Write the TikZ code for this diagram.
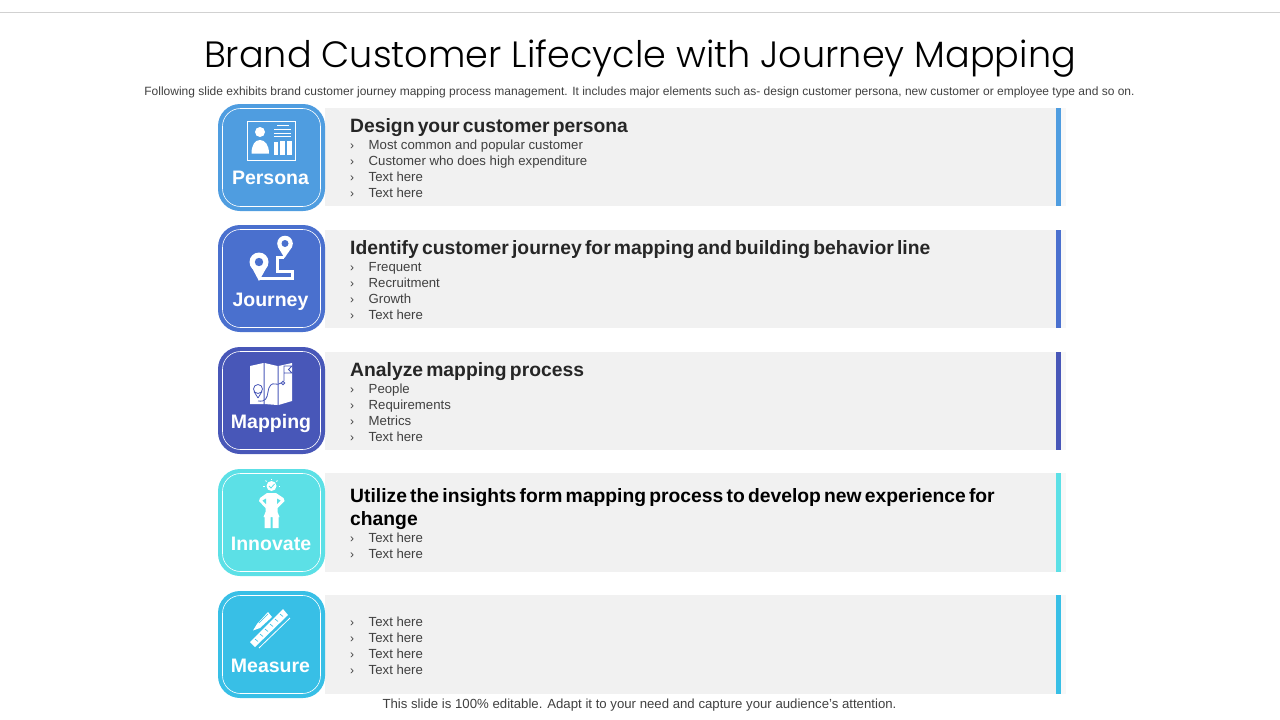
\documentclass[tikz,border=0pt]{standalone}
\usepackage{fontspec}
\setmainfont{Liberation Sans}
\newfontfamily\titlefont{Poppins Light}
\newfontfamily\headfont{Liberation Sans}[WordSpace=0.6]
\usepackage{xcolor}
\usetikzlibrary{positioning,calc}

\definecolor{perscol}{HTML}{4F9DE0}
\definecolor{jourcol}{HTML}{4A70CE}
\definecolor{mapcol}{HTML}{4857B8}
\definecolor{innocol}{HTML}{5CE0E6}
\definecolor{meascol}{HTML}{38BFE6}
\definecolor{rowgrey}{HTML}{F1F1F1}
\definecolor{stripgrey}{HTML}{F8F8F8}
\definecolor{bodygrey}{HTML}{404040}

\tikzset{
    iconbox/.style={fill=#1, rounded corners=22pt, minimum width=107pt, minimum height=107pt, inner sep=0pt},
    innerbox/.style={draw=white, line width=0.6pt, rounded corners=18pt, minimum width=98pt, minimum height=98pt, inner sep=0pt},
    rowbg/.style={fill=rowgrey, anchor=north west, minimum width=731pt, minimum height=#1, inner sep=0pt},
    strip/.style={fill=stripgrey, anchor=north west, minimum width=5pt, minimum height=#1, inner sep=0pt},
    accent/.style={fill=#1, anchor=north west, minimum width=5pt, inner sep=0pt},
    boxlabel/.style={anchor=base, text=white, font=\bfseries\fontsize{19.5}{20}\selectfont, inner sep=0pt},
    heading/.style={anchor=base west, inner sep=0pt, text=#1, font=\headfont\bfseries\fontsize{19.3}{23}\selectfont},
    bullet/.style={anchor=base west, inner sep=0pt, text=bodygrey, font=\fontsize{12}{12}\selectfont},
    entry/.style={anchor=base west, inner sep=0pt, text=bodygrey, font=\fontsize{13.2}{16}\selectfont}
}

\begin{document}
\begin{tikzpicture}[x=1pt, y=-1pt]
    \useasboundingbox (0,0) rectangle (1280,720);

    \coordinate (ruleL) at (0,12);
    \coordinate (ruleR) at (1280,12);
    \draw [black!18, line width=1pt] (ruleL) -- (ruleR);

    \node [inner sep=0pt, font=\titlefont\fontsize{36.6}{38}\selectfont] (title) at (640,59) {Brand Customer Lifecycle with Journey Mapping};
    \node [inner sep=0pt, text=bodygrey, font=\fontsize{12}{14}\selectfont] (subtitle) at (639.5,92.5) {Following slide exhibits brand customer journey mapping process management. It includes major elements such as- design customer persona, new customer or employee type and so on.};
    \node [inner sep=0pt, text=bodygrey, font=\fontsize{13.2}{16}\selectfont] (footer) at (639.5,705.5) {This slide is 100\% editable. Adapt it to your need and capture your audience’s attention.};

    % rows
    \node [rowbg=98pt] (row1) at (325,108) {};
    \node [rowbg=98pt] (row2) at (325,230) {};
    \node [rowbg=98pt] (row3) at (325,352) {};
    \node [rowbg=99pt] (row4) at (325,473) {};
    \node [rowbg=99pt] (row5) at (325,595) {};

    \node [strip=98pt] (strip1) at (1061,108) {};
    \node [strip=98pt] (strip2) at (1061,230) {};
    \node [strip=98pt] (strip3) at (1061,352) {};
    \node [strip=99pt] (strip4) at (1061,473) {};
    \node [strip=99pt] (strip5) at (1061,595) {};

    \node [accent=perscol, minimum height=98pt] (bar1) at (1056,108) {};
    \node [accent=jourcol, minimum height=98pt] (bar2) at (1056,230) {};
    \node [accent=mapcol, minimum height=98pt] (bar3) at (1056,352) {};
    \node [accent=innocol, minimum height=99pt] (bar4) at (1056,473) {};
    \node [accent=meascol, minimum height=99pt] (bar5) at (1056,595) {};

    % boxes
    \node [iconbox=perscol] (persona) at (271.5,157.5) {};
    \node [iconbox=jourcol] (journey) at (271.5,278.5) {};
    \node [iconbox=mapcol] (mapping) at (271.5,400.5) {};
    \node [iconbox=innocol] (innovate) at (271.5,522.5) {};
    \node [iconbox=meascol] (measure) at (271.5,644.5) {};

    \node [innerbox] (personaIn) at (persona) {};
    \node [innerbox] (journeyIn) at (journey) {};
    \node [innerbox] (mappingIn) at (mapping) {};
    \node [innerbox] (innovateIn) at (innovate) {};
    \node [innerbox] (measureIn) at (measure) {};

    \node [boxlabel] (personaText) at (270.5,184) {Persona};
    \node [boxlabel] (journeyText) at (270.5,306) {Journey};
    \node [boxlabel] (mappingText) at (271,428) {Mapping};
    \node [boxlabel] (innovateText) at (271,550) {Innovate};
    \node [boxlabel] (measureText) at (270.5,672) {Measure};

    % persona icon
    \draw [white, line width=1pt] (247.5,121.5) rectangle (295.5,160.5);
    \fill [white] (260,132) circle [radius=5];
    \fill [white] (251.5,153.5) .. controls (251.5,145) and (255,140) .. (260,140) .. controls (265,140) and (269,145) .. (269,153.5) -- cycle;
    \draw [white, line width=0.8pt] (277,125.5) -- (289,125.5);
    \draw [white, line width=0.8pt] (274,129.5) -- (291,129.5);
    \draw [white, line width=0.8pt] (274,133) -- (291,133);
    \draw [white, line width=0.8pt] (274,136.5) -- (291,136.5);
    \fill [white] (274,142) rectangle (278,155);
    \fill [white] (280,141) rectangle (285,155);
    \fill [white] (287,141) rectangle (292,155);

    % journey icon
    \draw [white, line width=3pt] (284,257) -- (277,257) -- (277,271) -- (292,271) -- (292,278) -- (259,278);
    \fill [white] (250.5,265) -- (259,281) -- (268,265) -- cycle;
    \fill [white] (259,262) circle [radius=9.5];
    \fill [jourcol] (259,262) circle [radius=4.2];
    \fill [white] (278,247) -- (284.5,258) -- (292,247) -- cycle;
    \fill [white] (285,243.5) circle [radius=7.8];
    \fill [jourcol] (285,243.5) circle [radius=3.5];

    % mapping icon
    \fill [white] (250,366) -- (263.5,363) -- (263.5,404) -- (250,404) -- cycle;
    \fill [white] (264.5,363) -- (277.5,366) -- (277.5,405) -- (264.5,404) -- cycle;
    \fill [white] (278.5,366) -- (292,363) -- (292,401) -- (278.5,405) -- cycle;
    \draw [mapcol, line width=0.8pt] (258,398) -- (254,391.5);
    \draw [mapcol, line width=0.8pt] (258,398) -- (262,391.5);
    \draw [mapcol, line width=0.8pt] (258,389) circle [radius=4.5];
    \draw [mapcol, line width=0.8pt] (258,401) .. controls (266,402) and (267,398) .. (268,392) .. controls (269,385) and (272,383) .. (275,384) .. controls (277,385) and (279,384) .. (281,383);
    \draw [mapcol, line width=0.8pt] (284,381) -- (284,366) -- (292,366) -- (288.5,369.5) -- (292,373) -- (284,373);
    \draw [mapcol, line width=0.8pt] (283,383) circle [radius=1.8];

    % innovate icon
    \fill [white] (271.5,486) circle [radius=5];
    \draw [innocol, line width=0.8pt] (269,486) -- (271,488) -- (274.5,484);
    \draw [white, line width=0.8pt] (271.5,478.5) -- (271.5,480);
    \draw [white, line width=0.8pt] (265.5,480.5) -- (266.5,481.5);
    \draw [white, line width=0.8pt] (277.5,480.5) -- (276.5,481.5);
    \draw [white, line width=0.8pt] (263,486) -- (264.5,486);
    \draw [white, line width=0.8pt] (280,486) -- (278.5,486);
    \fill [white] (267,493) -- (276,493) -- (283.5,498) -- (284.5,501) -- (277.5,508) -- (277.5,512) -- (279.5,517) -- (278.5,517) -- (278.5,528) -- (272.5,528) -- (272.5,517) -- (270.5,517) -- (270.5,528) -- (264.5,528) -- (264.5,517) -- (263.5,517) -- (265.5,512) -- (265.5,508) -- (259,501) -- (260,498) -- cycle;
    \fill [innocol] (262.5,500.5) -- (266,498.5) -- (266,504) -- cycle;
    \fill [innocol] (280.5,500.5) -- (277,498.5) -- (277,504) -- cycle;

    % measure icon
    \fill [white] (250,642) -- (283,609) -- (288,615) -- (255,647) -- cycle;
    \draw [white, line width=0.8pt] (259,648) -- (290,618);
    \fill [white] (253,630.5) -- (257,624) -- (268,612) -- (272,617) -- (260,628) -- cycle;
    \draw [meascol, line width=0.6pt] (255,639) -- (258,641.5);
    \draw [meascol, line width=0.6pt] (260,634) -- (263,636.5);
    \draw [meascol, line width=0.6pt] (265,629) -- (268,631.5);
    \draw [meascol, line width=0.6pt] (270,624) -- (273,626.5);
    \draw [meascol, line width=0.6pt] (275,619) -- (278,621.5);
    \draw [meascol, line width=0.6pt] (280,614) -- (283,616.5);
    \draw [meascol, line width=0.5pt] (259,623) -- (268,614);

    % row 1
    \node [heading=black!85] (head1) at (350,132) {Design your customer persona};
    \node [bullet] (b11) at (350,149) {›};
    \node [entry] (t11) at (368.5,149) {Most common and popular customer};
    \node [bullet] (b12) at (350,165) {›};
    \node [entry] (t12) at (368.5,165) {Customer who does high expenditure};
    \node [bullet] (b13) at (350,181) {›};
    \node [entry] (t13) at (368.5,181) {Text here};
    \node [bullet] (b14) at (350,197) {›};
    \node [entry] (t14) at (368.5,197) {Text here};

    % row 2
    \node [heading=black!85] (head2) at (350,254) {Identify customer journey for mapping and building behavior line};
    \node [bullet] (b21) at (350,271) {›};
    \node [entry] (t21) at (368.5,271) {Frequent};
    \node [bullet] (b22) at (350,287) {›};
    \node [entry] (t22) at (368.5,287) {Recruitment};
    \node [bullet] (b23) at (350,303) {›};
    \node [entry] (t23) at (368.5,303) {Growth};
    \node [bullet] (b24) at (350,319) {›};
    \node [entry] (t24) at (368.5,319) {Text here};

    % row 3
    \node [heading=black!85] (head3) at (350,376) {Analyze mapping process};
    \node [bullet] (b31) at (350,393) {›};
    \node [entry] (t31) at (368.5,393) {People};
    \node [bullet] (b32) at (350,409) {›};
    \node [entry] (t32) at (368.5,409) {Requirements};
    \node [bullet] (b33) at (350,425) {›};
    \node [entry] (t33) at (368.5,425) {Metrics};
    \node [bullet] (b34) at (350,441) {›};
    \node [entry] (t34) at (368.5,441) {Text here};

    % row 4
    \node [heading=black] (head4) at (350,502) {Utilize the insights form mapping process to develop new experience for};
    \node [heading=black] (head4b) at (350,525) {change};
    \node [bullet] (b41) at (350,542) {›};
    \node [entry] (t41) at (368.5,542) {Text here};
    \node [bullet] (b42) at (350,558) {›};
    \node [entry] (t42) at (368.5,558) {Text here};

    % row 5
    \node [bullet] (b51) at (350,626) {›};
    \node [entry] (t51) at (368.5,626) {Text here};
    \node [bullet] (b52) at (350,642) {›};
    \node [entry] (t52) at (368.5,642) {Text here};
    \node [bullet] (b53) at (350,658) {›};
    \node [entry] (t53) at (368.5,658) {Text here};
    \node [bullet] (b54) at (350,674) {›};
    \node [entry] (t54) at (368.5,674) {Text here};
\end{tikzpicture}
\end{document}
